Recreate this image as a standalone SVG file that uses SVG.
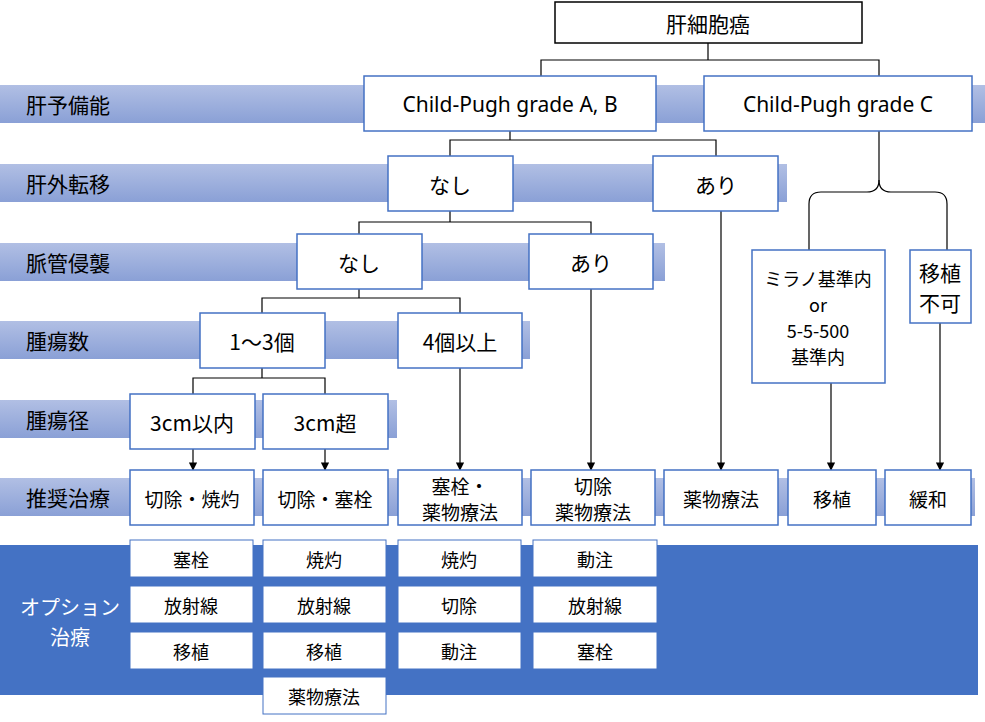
<svg xmlns="http://www.w3.org/2000/svg" width="985" height="722" viewBox="0 0 985 722">
<defs>
<linearGradient id="g" x1="0" y1="0" x2="0" y2="1"><stop offset="0" stop-color="#b1bfe4"/><stop offset="1" stop-color="#8aa0d6"/></linearGradient>
<marker id="a" viewBox="0 0 10 10" refX="9" refY="5" markerWidth="7" markerHeight="7" orient="auto"><path d="M0,0L10,5L0,10z" fill="#000"/></marker>
</defs>
<style>
text{font-family:"Noto Sans CJK JP","Noto Sans",sans-serif;text-anchor:middle;dominant-baseline:central;fill:#000}
.n rect{fill:#fff;stroke:#4472c4;stroke-width:1.5}
.t rect{fill:#fff;stroke:#000;stroke-width:1.5}
.o rect{fill:#fff;stroke:#4472c4;stroke-width:1}
.n text,.t text{font-size:21px}
.o text{font-size:18px}
.lb{text-anchor:start;font-size:21px}
.c path{fill:none;stroke:#000;stroke-width:1.2}
</style>
<g id="bands">
<rect x="0" y="85" width="985" height="38" fill="url(#g)"/>
<rect x="0" y="164" width="787" height="38" fill="url(#g)"/>
<rect x="0" y="243" width="665" height="38" fill="url(#g)"/>
<rect x="0" y="321" width="530" height="38" fill="url(#g)"/>
<rect x="0" y="400" width="397" height="38" fill="url(#g)"/>
<rect x="0" y="478" width="975" height="38" fill="url(#g)"/>
<rect x="0" y="545" width="978" height="150" fill="#4472c4"/>
<text class="lb" x="26" y="104">肝予備能</text>
<text class="lb" x="26" y="183">肝外転移</text>
<text class="lb" x="26" y="262">脈管侵襲</text>
<text class="lb" x="26" y="340">腫瘍数</text>
<text class="lb" x="26" y="419">腫瘍径</text>
<text class="lb" x="26" y="497">推奨治療</text>
<text x="70" y="606" font-size="20" fill="#fff" style="fill:#fff">オプション</text>
<text x="70" y="636" font-size="20" style="fill:#fff">治療</text>
</g>
<g class="c" id="connectors">
<path d="M708,43V60M541,76V60H879V76"/>
<path d="M510,131V140M450,156V140H716V156"/>
<path d="M450,211V222M359,234V222H591V234"/>
<path d="M359,289V298M262,313V298H460V313"/>
<path d="M262,368V378M193,394V378H325V394"/>
<path d="M879,131V180"/>
<path d="M879,180Q879,192 867,192H821Q809,192 809,204V250"/>
<path d="M879,180Q879,192 891,192H935Q947,192 947,204V250"/>
<path d="M193,449V470" marker-end="url(#a)"/>
<path d="M325,449V470" marker-end="url(#a)"/>
<path d="M460,368V470" marker-end="url(#a)"/>
<path d="M591,289V470" marker-end="url(#a)"/>
<path d="M721,211V470" marker-end="url(#a)"/>
<path d="M831,383V470" marker-end="url(#a)"/>
<path d="M940,323V470" marker-end="url(#a)"/>
</g>
<g id="hcc" class="t"><rect x="555" y="2" width="307" height="41"/><text x="708" y="23">肝細胞癌</text></g>
<g id="cpab" class="n"><rect x="364" y="76" width="292" height="55"/><text x="510" y="104" style="font-family:'Noto Sans',sans-serif">Child-Pugh grade A, B</text></g>
<g id="cpc" class="n"><rect x="704" y="76" width="268" height="55"/><text x="838" y="104" style="font-family:'Noto Sans',sans-serif">Child-Pugh grade C</text></g>
<g id="m_no" class="n"><rect x="388" y="156" width="125" height="55"/><text x="450" y="184">なし</text></g>
<g id="m_yes" class="n"><rect x="653" y="156" width="125" height="55"/><text x="716" y="184">あり</text></g>
<g id="v_no" class="n"><rect x="297" y="234" width="125" height="55"/><text x="359" y="262">なし</text></g>
<g id="v_yes" class="n"><rect x="529" y="234" width="124" height="55"/><text x="591" y="262">あり</text></g>
<g id="n13" class="n"><rect x="200" y="313" width="125" height="55"/><text x="262" y="341">1～3個</text></g>
<g id="n4" class="n"><rect x="398" y="313" width="124" height="55"/><text x="460" y="341">4個以上</text></g>
<g id="s3in" class="n"><rect x="130" y="394" width="125" height="55"/><text x="192" y="422">3cm以内</text></g>
<g id="s3over" class="n"><rect x="263" y="394" width="125" height="55"/><text x="325" y="422">3cm超</text></g>
<g id="milan" class="n"><rect x="752" y="250" width="133" height="133"/><text x="818" y="278" style="font-size:18px">ミラノ基準内</text><text x="818" y="304" style="font-size:18px">or</text><text x="818" y="330" style="font-size:18px">5-5-500</text><text x="818" y="356" style="font-size:18px">基準内</text></g>
<g id="noTx" class="n"><rect x="910" y="250" width="61" height="73"/><text x="940" y="272">移植</text><text x="940" y="302">不可</text></g>
<g id="r1" class="n"><rect x="130" y="470" width="124" height="55"/><text x="192" y="498" style="font-size:19px">切除・焼灼</text></g>
<g id="r2" class="n"><rect x="263" y="470" width="125" height="55"/><text x="325" y="498" style="font-size:19px">切除・塞栓</text></g>
<g id="r3" class="n"><rect x="398" y="470" width="124" height="55"/><text x="460" y="485" style="font-size:19px">塞栓・</text><text x="460" y="511" style="font-size:19px">薬物療法</text></g>
<g id="r4" class="n"><rect x="531" y="470" width="124" height="55"/><text x="593" y="485" style="font-size:19px">切除</text><text x="593" y="511" style="font-size:19px">薬物療法</text></g>
<g id="r5" class="n"><rect x="664" y="470" width="114" height="55"/><text x="721" y="498" style="font-size:19px">薬物療法</text></g>
<g id="r6" class="n"><rect x="788" y="470" width="88" height="55"/><text x="832" y="498" style="font-size:19px">移植</text></g>
<g id="r7" class="n"><rect x="885" y="470" width="86" height="55"/><text x="928" y="498" style="font-size:19px">緩和</text></g>
<g id="o1" class="o"><rect x="130" y="540" width="123" height="37"/><text x="191" y="559">塞栓</text><rect x="130" y="586" width="123" height="37"/><text x="191" y="605">放射線</text><rect x="130" y="632" width="123" height="37"/><text x="191" y="651">移植</text></g>
<g id="o2" class="o"><rect x="263" y="540" width="123" height="37"/><text x="324" y="559">焼灼</text><rect x="263" y="586" width="123" height="37"/><text x="324" y="605">放射線</text><rect x="263" y="632" width="123" height="37"/><text x="324" y="651">移植</text><rect x="263" y="677" width="123" height="37"/><text x="324" y="696">薬物療法</text></g>
<g id="o3" class="o"><rect x="398" y="540" width="123" height="37"/><text x="459" y="559">焼灼</text><rect x="398" y="586" width="123" height="37"/><text x="459" y="605">切除</text><rect x="398" y="632" width="123" height="37"/><text x="459" y="651">動注</text></g>
<g id="o4" class="o"><rect x="533" y="540" width="124" height="37"/><text x="595" y="559">動注</text><rect x="533" y="586" width="124" height="37"/><text x="595" y="605">放射線</text><rect x="533" y="632" width="124" height="37"/><text x="595" y="651">塞栓</text></g>
</svg>
